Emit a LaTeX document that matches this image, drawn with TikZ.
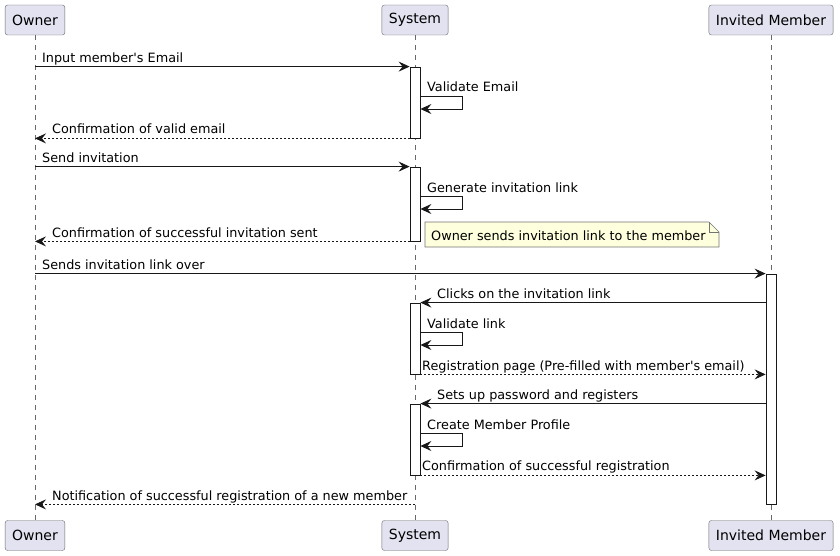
\documentclass[tikz,border=0pt]{standalone}
\usepackage{fontspec}
\setmainfont{DejaVu Sans}
\usetikzlibrary{arrows.meta}

\definecolor{partfill}{RGB}{226,226,240}
\definecolor{linecol}{RGB}{24,24,24}
\definecolor{notefill}{RGB}{254,255,221}

\tikzset{
  participant/.style={draw=linecol!65, fill=partfill, rounded corners=2.5pt, minimum height=30pt, inner xsep=7pt, font=\fontsize{14}{16}\selectfont},
  lifeline/.style={draw=linecol!65, line width=0.5pt, dash pattern=on 5pt off 5pt},
  act/.style={draw=linecol, fill=white, minimum width=10pt, inner sep=0pt, line width=0.8pt},
  msg/.style={draw=linecol, line width=0.8pt, -{Stealth[length=11pt,width=10pt,inset=4pt]}},
  reply/.style={msg, dash pattern=on 2pt off 2pt},
  lbl/.style={anchor=base west, inner sep=0pt, font=\fontsize{12.8}{15}\selectfont},
  notebox/.style={draw=linecol!60, fill=notefill, line width=0.6pt},
}

\begin{document}
\begin{tikzpicture}[x=1pt, y=-1pt]
\useasboundingbox (0,0) rectangle (840,556);

% participants, top and bottom
\node[participant] (owner) at (35,20) {Owner};
\node[participant] (system) at (415,20) {System};
\node[participant] (member) at (771,20) {Invited Member};
\node[participant] (ownerB) at (35,535.5) {Owner};
\node[participant] (systemB) at (415,535.5) {System};
\node[participant] (memberB) at (771,535.5) {Invited Member};

% lifelines
\draw[lifeline] (owner.south) -- (ownerB.north);
\draw[lifeline] (system.south) -- (systemB.north);
\draw[lifeline] (member.south) -- (memberB.north);

% activations
\node[act, minimum height=71pt] (act1) at (415,102.5) {};
\node[act, minimum height=74pt] (act2) at (415,204) {};
\node[act, minimum height=230pt] (act3) at (771,389) {};
\node[act, minimum height=71pt] (act4) at (415,338.5) {};
\node[act, minimum height=71pt] (act5) at (415,439.5) {};

% email check
\draw[msg] (owner.south |- act1.north) -- (act1.north west);
\node[lbl] (l1) at (42,63) {Input member\textquotesingle s Email};
\draw[msg] (act1.east |- 0,96) -- ++(42,0) -- ++(0,13) -- ++(-42,0);
\node[lbl] (l2) at (427,92) {Validate Email};
\draw[reply] (act1.south west) -- (owner.south |- act1.south);
\node[lbl] (l3) at (52,134) {Confirmation of valid email};

% invitation
\draw[msg] (owner.south |- act2.north) -- (act2.north west);
\node[lbl] (l4) at (42,163) {Send invitation};
\draw[msg] (act2.east |- 0,196) -- ++(42,0) -- ++(0,13) -- ++(-42,0);
\node[lbl] (l5) at (427,193) {Generate invitation link};
\draw[reply] (act2.south west) -- (owner.south |- act2.south);
\node[lbl] (l6) at (52,237) {Confirmation of successful invitation sent};

% note
\draw[notebox] (425,222) -- (709,222) -- (719,232) -- (719,247) -- (425,247) -- cycle;
\draw[notebox, fill=none] (709,222) -- (709,232) -- (719,232);
\node[lbl] (nt) at (431,240) {Owner sends invitation link to the member};

\draw[msg] (owner.south |- act3.north) -- (act3.north west);
\node[lbl] (l7) at (42,269) {Sends invitation link over};

% member registers
\draw[msg] (act3.west |- act4.north) -- (act4.north east);
\node[lbl] (l8) at (437,298) {Clicks on the invitation link};
\draw[msg] (act4.east |- 0,332) -- ++(42,0) -- ++(0,13) -- ++(-42,0);
\node[lbl] (l9) at (427,328) {Validate link};
\draw[reply] (act4.south east) -- (act3.west |- act4.south);
\node[lbl] (l10) at (422,370) {Registration page (Pre-filled with member\textquotesingle s email)};

\draw[msg] (act3.west |- act5.north) -- (act5.north east);
\node[lbl] (l11) at (437,399) {Sets up password and registers};
\draw[msg] (act5.east |- 0,433) -- ++(42,0) -- ++(0,13) -- ++(-42,0);
\node[lbl] (l12) at (427,429) {Create Member Profile};
\draw[reply] (act5.south east) -- (act3.west |- act5.south);
\node[lbl] (l13) at (422,470) {Confirmation of successful registration};

\draw[reply] (system.south |- act3.south) -- (owner.south |- act3.south);
\node[lbl] (l14) at (52,500) {Notification of successful registration of a new member};
\end{tikzpicture}
\end{document}
